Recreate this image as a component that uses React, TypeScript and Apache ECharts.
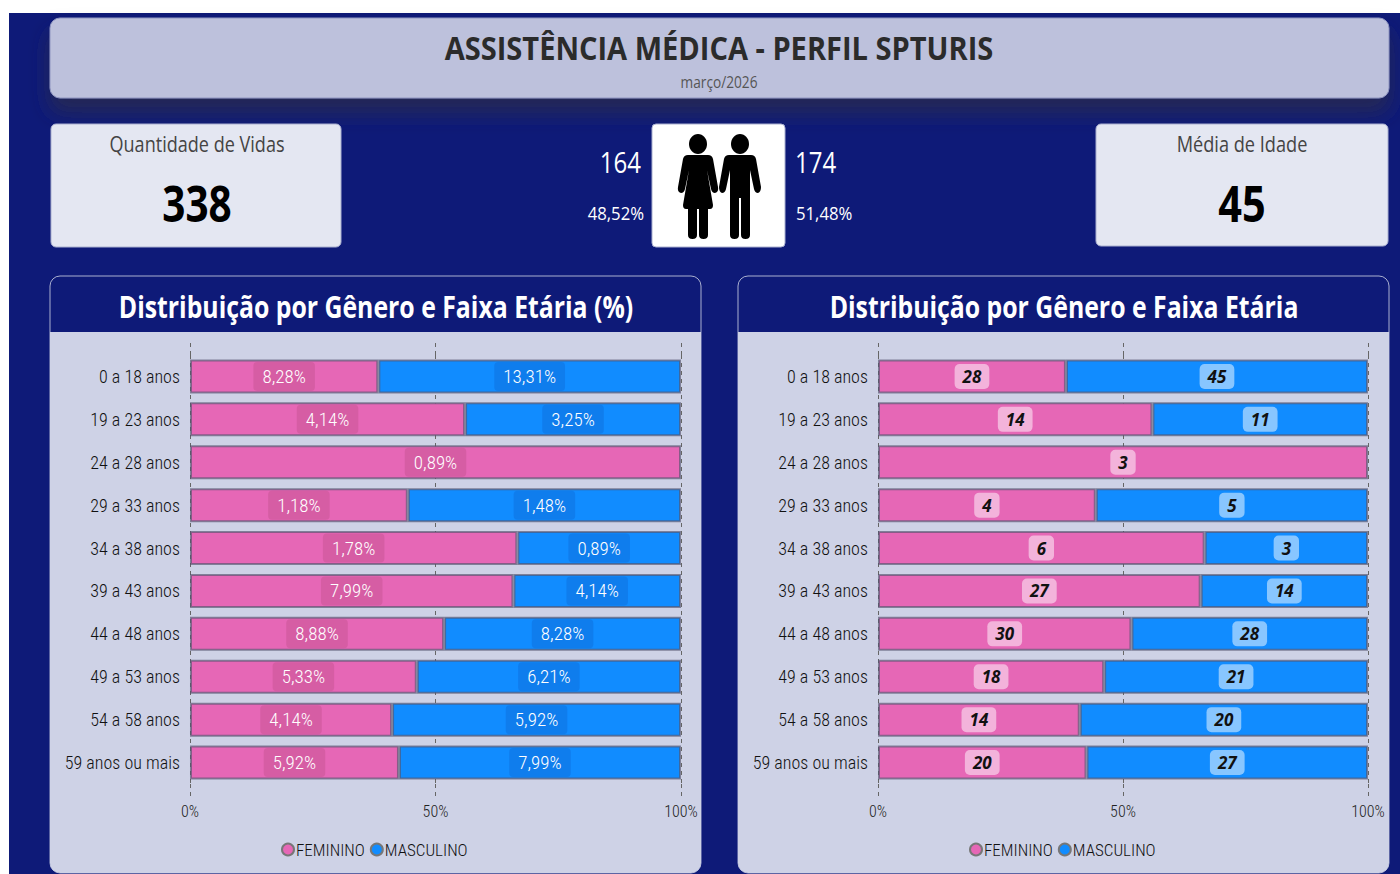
import React, { useEffect, useRef } from "react";
import * as echarts from "echarts";

const ageGroups = ["0 a 18 anos","19 a 23 anos","24 a 28 anos","29 a 33 anos","34 a 38 anos","39 a 43 anos","44 a 48 anos","49 a 53 anos","54 a 58 anos","59 anos ou mais"];
const femPct = [8.28,4.14,0.89,1.18,1.78,7.99,8.88,5.33,4.14,5.92];
const mascPct = [13.31,3.25,0,1.48,0.89,4.14,8.28,6.21,5.92,7.99];
const femCount = [28,14,3,4,6,27,30,18,14,20];
const mascCount = [45,11,0,5,3,14,28,21,20,27];
const seriesNames = ["FEMININO","MASCULINO"];

const PINK = "#e667b6";
const BLUE = "#118cff";
const NAVY = "#0e1a78";
const NARROW = "'Roboto Condensed Light', 'Roboto Condensed', 'Open Sans', sans-serif";
const WIDE = "'Open Sans', sans-serif";

const WOMAN = "M688 155 H708 Q712 155 713 159 L718 187 Q719 192 715 193 Q712 193 711 189 L707 170 L713 205 Q713 209 710 209 H708 V235 Q708 239 703.5 239 Q699 239 699 235 V209 H697 V235 Q697 239 692.5 239 Q688 239 688 235 V209 H686 Q683 209 683 205 L689 170 L685 189 Q684 193 681 193 Q677 192 678 187 L683 159 Q684 155 688 155 Z";
const MAN = "M729 155 H751 Q755 155 756 159 L761 187 Q761 192 758 193 Q755 193 754 189 L750 170 V235 Q750 239 745.5 239 Q741 239 741 235 V198 H739 V235 Q739 239 734.5 239 Q730 239 730 235 V170 L726 189 Q725 193 722 193 Q719 192 719 187 L724 159 Q725 155 729 155 Z";

const txt = (text: string, x: number, y: number, size: number, fill: string, o: any = {}) => ({
  type: "text", x, y, scaleX: o.sx ?? 0.86, z: 5,
  style: { text, fill, fontSize: size, fontWeight: o.bold ? 700 : 400, fontFamily: WIDE, textAlign: o.align ?? "center", textVerticalAlign: "middle" },
});
const card = (x: number, y: number, w: number, h: number, fill: string, r: any = 5, extra: any = {}) => ({
  type: "rect", x, y, z: -3, shape: { x: 0, y: 0, width: w, height: h, r }, style: { fill, stroke: "#aab0d0", lineWidth: 1, ...extra },
});

const share = (a: number, b: number) => (a + b === 0 ? 0 : (a / (a + b)) * 100);

export default function App() {
  const ref = useRef<HTMLDivElement>(null);
  useEffect(() => {
    echarts.graphic.registerShape("woman", echarts.graphic.extendPath(WOMAN, {}) as any);
    echarts.graphic.registerShape("man", echarts.graphic.extendPath(MAN, {}) as any);
    const chart = echarts.init(ref.current!, null, { renderer: "svg" });

    const panels = [
      { x: 190, w: 491, fem: femPct, masc: mascPct, fmt: (v: number) => v.toFixed(2).replace(".", ",") + "%", solid: true, legend: 281 },
      { x: 878, w: 490, fem: femCount, masc: mascCount, fmt: (v: number) => String(v), solid: false, legend: 969 },
    ];
    const grids: any[] = [], xAxes: any[] = [], yAxes: any[] = [], series: any[] = [], legends: any[] = [];
    panels.forEach((p, i) => {
      grids.push({ left: p.x, width: p.w, top: 355, height: 429 });
      const base = {
        type: "value", gridIndex: i, min: 0, max: 100, interval: 50,
        axisLine: { show: false },
        axisTick: { show: true, length: 13, lineStyle: { color: "#666", type: [4, 4], width: 1 } },
      };
      xAxes.push({
        ...base, position: "bottom",
        axisLabel: { formatter: "{value}%", color: "#222", fontSize: 16, fontFamily: NARROW, margin: 19, hideOverlap: false },
        splitLine: { show: true, lineStyle: { color: "#666", type: [4, 4], width: 1 } },
      });
      xAxes.push({ ...base, position: "top", axisLabel: { show: false }, splitLine: { show: false } });
      yAxes.push({
        type: "category", gridIndex: i, inverse: true, data: ageGroups,
        axisLine: { show: false }, axisTick: { show: false },
        axisLabel: { color: "#111", fontSize: 18, fontFamily: NARROW, margin: 10 },
      });
      const mk = (name: string, color: string, own: number[], other: number[]) => ({
        name, type: "bar", stack: "g" + i, xAxisIndex: i * 2, yAxisIndex: i, barWidth: 34,
        itemStyle: { color, borderColor: "rgba(85,85,110,0.65)", borderWidth: 2 },
        data: own.map((v, k) => (v === 0 ? null : share(v, other[k]))),
        label: {
          show: true, position: "inside",
          formatter: (q: any) => p.fmt(own[q.dataIndex]),
          ...(p.solid
            ? { color: "#fff", fontSize: 19, fontFamily: NARROW, backgroundColor: color === PINK ? "rgba(200,85,150,0.55)" : "rgba(15,115,225,0.6)", padding: [5, 9], borderRadius: 4 }
            : { color: "#111", fontSize: 17, fontWeight: 700, fontStyle: "italic", fontFamily: WIDE, backgroundColor: "rgba(255,255,255,0.5)", padding: [4, 8], borderRadius: 5 }),
        },
      });
      series.push(mk(seriesNames[0], PINK, p.fem, p.masc), mk(seriesNames[1], BLUE, p.masc, p.fem));
      legends.push({
        left: p.legend, top: 841, itemWidth: 12, itemHeight: 14, itemGap: 5, icon: "circle", padding: 0, selectedMode: false,
        data: seriesNames, textStyle: { color: "#111", fontSize: 17, fontFamily: NARROW, padding: [0, 0, 0, -3] },
        itemStyle: { borderColor: "#777", borderWidth: 2 },
      });
    });

    const graphic: any[] = [
      { type: "rect", x: 9, y: 13, z: -5, shape: { x: 0, y: 0, width: 1391, height: 861 }, style: { fill: NAVY } },
      { ...card(50, 18, 1339, 80, "#bdc1dc", 10), style: { fill: "#bdc1dc", stroke: "#8f95c0", lineWidth: 1, shadowBlur: 20, shadowOffsetY: 14, shadowColor: "rgba(45,45,70,0.7)" } },
      txt("ASSISTÊNCIA MÉDICA - PERFIL SPTURIS", 719, 47, 33, "#2b2b2b", { bold: true, sx: 0.88 }),
      txt("março/2026", 719, 82, 16, "#555", { sx: 0.855 }),
      card(51, 124, 290, 123, "#e4e7f2", 5),
      txt("Quantidade de Vidas", 197, 144, 21, "#444"),
      txt("338", 197, 202, 50, "#000", { bold: true, sx: 0.81 }),
      card(1096, 124, 292, 122, "#e4e7f2", 5),
      txt("Média de Idade", 1242, 144, 21, "#444", { sx: 0.866 }),
      txt("45", 1242, 202, 50, "#000", { bold: true, sx: 0.83 }),
      card(652, 124, 133, 123, "#ffffff", 4),
      { type: "woman", x: 0, y: 0, z: 6, style: { fill: "#000" } },
      { type: "man", x: 0, y: 0, z: 6, style: { fill: "#000" } },
      { type: "ellipse", z: 6, shape: { cx: 698, cy: 144, rx: 9, ry: 10 }, style: { fill: "#000" } },
      { type: "ellipse", z: 6, shape: { cx: 740, cy: 144, rx: 9, ry: 10 }, style: { fill: "#000" } },
      txt("164", 641, 161, 30, "#fff", { align: "right", sx: 0.8 }),
      txt("48,52%", 644, 213, 19, "#fff", { align: "right", sx: 0.88 }),
      txt("174", 795, 161, 30, "#fff", { align: "left", sx: 0.8 }),
      txt("51,48%", 796, 213, 19, "#fff", { align: "left", sx: 0.88 }),
    ];
    [[50, 651, "Distribuição por Gênero e Faixa Etária (%)", 376], [738, 651, "Distribuição por Gênero e Faixa Etária", 1064]].forEach(([x, w, t, cx]: any) => {
      graphic.push(
        card(x, 276, w, 597, NAVY, 10, { stroke: "#aab0d0" }),
        { type: "rect", x, y: 332, z: -2, shape: { x: 0, y: 0, width: w, height: 541, r: [0, 0, 10, 10] }, style: { fill: "#ced2e6" } },
        txt(t, cx, 307, 30, "#fff", { bold: true, sx: 0.827 }),
      );
    });

    chart.setOption({
      animation: false,
      graphic: { elements: graphic },
      grid: grids, xAxis: xAxes, yAxis: yAxes, series, legend: legends,
    });
    return () => chart.dispose();
  }, []);
  return <div ref={ref} style={{ position: "fixed", left: 0, top: 0, width: 1400, height: 874, background: "#fff" }} />;
}
